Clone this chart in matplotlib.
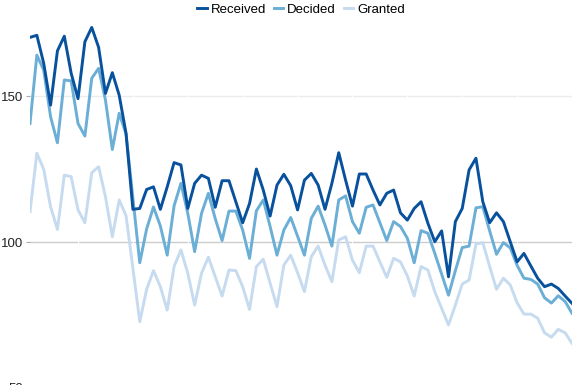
from matplotlib import pyplot as plt
import numpy as np

plt.rcParams['font.family'] = ['Liberation Sans', 'DejaVu Sans']

# values, 80 periods
received = [170.1, 170.8, 161.2, 146.9, 165.5, 170.5, 157.8, 149.1, 168.6, 173.5, 166.7, 150.9, 158.0, 150.3, 137.2,
            111.2, 111.5, 118.0, 118.9, 111.2, 118.9, 127.2, 126.4, 111.5, 120.1, 122.9, 121.8,
            111.9, 121.0, 121.0, 113.8, 106.6, 113.2, 125.0, 117.8, 108.9, 119.5, 123.2, 119.3, 111.0,
            121.2, 123.5, 119.5, 111.2, 120.1, 130.6, 121.2, 112.3, 123.3, 123.3, 117.8, 112.7, 116.7,
            117.8, 110.0, 107.5, 111.5, 113.8, 106.4, 100.1, 103.8, 88.1, 107.0, 111.5, 124.7, 128.7,
            113.8, 106.6, 110.0, 107.0, 100.1, 93.2, 96.1, 91.8, 87.6, 84.7, 85.6, 84.1, 81.5, 79.0]
decided = [140.6, 164.0, 158.9, 142.9, 134.0, 155.5, 155.2, 140.6, 136.3, 156.1, 159.5, 148.6, 131.7, 144.1, 137.0,
           115.0, 92.9, 104.5, 112.0, 105.5, 95.5, 112.4, 120.1, 109.8, 96.7, 109.8, 116.7,
           108.0, 100.5, 110.6, 110.6, 104.1, 94.4, 110.7, 114.4, 105.3, 95.5, 104.1, 108.4, 102.0,
           95.5, 108.1, 112.3, 105.8, 98.6, 114.4, 115.8, 107.0, 103.0, 111.9, 112.7, 106.6, 100.5,
           107.0, 105.3, 101.3, 92.9, 103.9, 103.0, 96.1, 89.0, 81.8, 90.2, 98.1, 98.6, 111.7,
           112.1, 103.8, 95.8, 99.8, 98.0, 92.0, 87.6, 87.2, 85.6, 80.9, 79.1, 81.6, 79.6, 75.6]
granted = [110.4, 130.4, 124.9, 112.1, 104.3, 122.9, 122.4, 111.0, 106.6, 123.7, 125.8, 115.5, 101.8, 114.4, 109.0,
           91.0, 72.7, 83.8, 90.2, 84.7, 76.7, 91.6, 97.3, 89.3, 78.4, 89.3, 94.8,
           88.1, 81.5, 90.4, 90.2, 84.7, 76.9, 91.6, 94.1, 85.9, 77.9, 92.1, 95.5, 89.5,
           83.0, 95.0, 98.6, 92.1, 86.4, 100.7, 101.8, 93.8, 89.5, 98.6, 98.6, 93.2, 87.9,
           94.4, 93.2, 88.4, 81.5, 91.6, 90.4, 83.0, 77.3, 71.6, 78.4, 85.6, 87.0, 99.3,
           99.8, 91.6, 83.8, 87.6, 85.3, 79.2, 75.3, 75.3, 73.9, 68.9, 67.4, 70.1, 68.9, 65.3]
y_ticks = [50, 100, 150]

x = np.arange(len(received))

fig = plt.figure(figsize=(5.79, 3.85), dpi=100)
axes = fig.add_axes([30 / 579, -3 / 385, 542 / 579, 388 / 385])

# horizontal grid, the 100 line a bit darker
axes.axhline(150, color='#ececec', lw=1.0, zorder=1)
axes.axhline(100, color='#cccccc', lw=1.0, zorder=1)
axes.axhline(50, color='#cccccc', lw=1.0, zorder=1)
# tiny gaps in the grid every 8 periods
for k in range(7, len(x), 8):
    axes.axvline(k, color='white', lw=0.7, zorder=2)

axes.plot(x, granted, color='#c6dbef', lw=2.1, label='Granted', zorder=3)
axes.plot(x, decided, color='#6baed6', lw=2.1, label='Decided', zorder=4)
axes.plot(x, received, color='#08519c', lw=2.1, label='Received', zorder=5)

axes.set_xlim(0, len(x) - 1)
axes.set_ylim(50, 182.9)
axes.set_xticks([])
axes.set_yticks(y_ticks)
axes.tick_params(axis='y', length=3, width=0.8, color='#aaaaaa', pad=2,
                 labelsize=9.5, labelcolor='#222222')
for s in axes.spines.values():
    s.set_visible(False)

h, l = axes.get_legend_handles_labels()
fig.legend(h[::-1], l[::-1], loc='upper center', bbox_to_anchor=(301 / 579, 0.997),
           ncol=3, frameon=False, fontsize=9.5, handlelength=0.7,
           handletextpad=0.3, columnspacing=0.6, borderpad=0.1, borderaxespad=0.1)

fig.savefig('out.png', dpi=100)
